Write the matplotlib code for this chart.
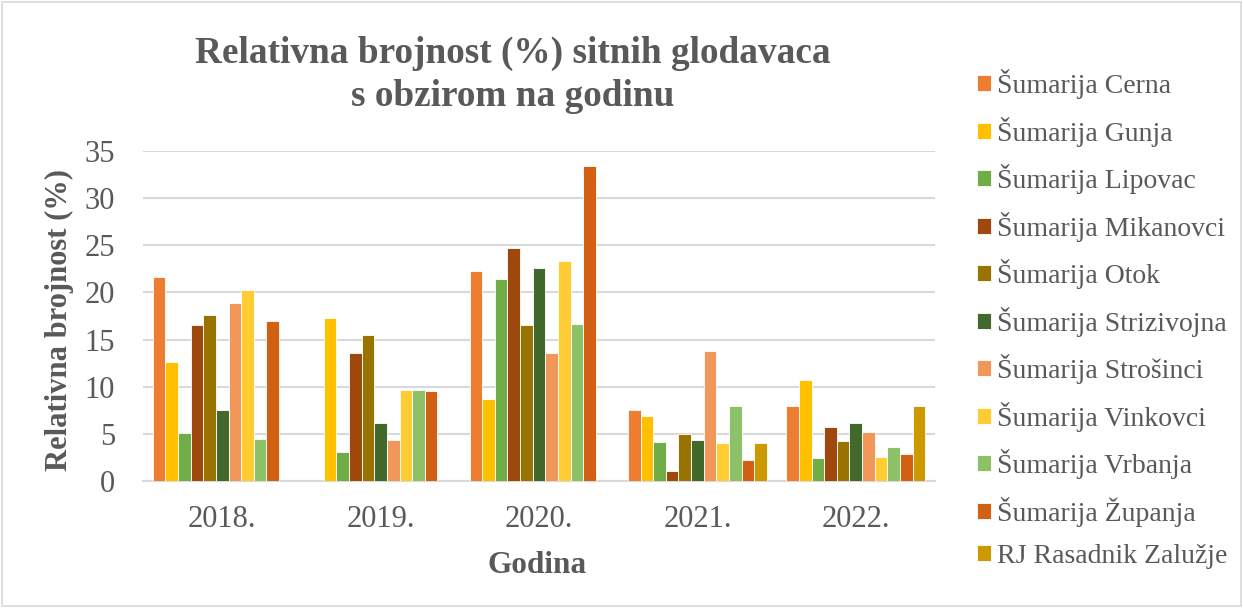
import numpy as np
import matplotlib
matplotlib.use("Agg")
import matplotlib.pyplot as plt
from matplotlib.patches import Rectangle

# data
godine = ["2018.", "2019.", "2020.", "2021.", "2022."]
serije = ["Šumarija Cerna", "Šumarija Gunja", "Šumarija Lipovac",
          "Šumarija Mikanovci", "Šumarija Otok", "Šumarija Strizivojna",
          "Šumarija Strošinci", "Šumarija Vinkovci", "Šumarija Vrbanja",
          "Šumarija Županja", "RJ Rasadnik Zalužje"]

cerna       = [21.6, 0.0, 22.3, 7.5, 8.0]
gunja       = [12.6, 17.3, 8.7, 6.9, 10.7]
lipovac     = [5.1, 3.1, 21.4, 4.1, 2.4]
mikanovci   = [16.5, 13.6, 24.7, 1.1, 5.7]
otok        = [17.6, 15.5, 16.5, 5.0, 4.2]
strizivojna = [7.5, 6.1, 22.6, 4.4, 6.1]
strosinci   = [18.9, 4.4, 13.6, 13.8, 5.2]
vinkovci    = [20.3, 9.7, 23.3, 4.0, 2.5]
vrbanja     = [4.5, 9.6, 16.6, 8.0, 3.6]
zupanja     = [17.0, 9.5, 33.4, 2.2, 2.9]
zaluzje     = [0.0, 0.0, 0.0, 4.0, 8.0]

boje = ["#ED7D31", "#FFC000", "#70AD47", "#9E480E", "#997300", "#43682B",
        "#F1975A", "#FFCD33", "#8CC168", "#D26012", "#CC9A00"]

vrijednosti = [cerna, gunja, lipovac, mikanovci, otok, strizivojna,
               strosinci, vinkovci, vrbanja, zupanja, zaluzje]

plt.rcParams['font.family'] = ['Liberation Serif', 'DejaVu Serif']
siva = "#595959"

fig = plt.figure(figsize=(12.43, 6.08), dpi=100)
ax = fig.add_axes([143/1243, 1 - 481/608, (935-143)/1243, (481-151)/608])

n = len(serije)
sirina = 0.877 / n
x = np.arange(len(godine))
for i in range(n):
    pomak = (i - (n - 1) / 2) * sirina
    ax.bar(x + pomak, vrijednosti[i], sirina, color=boje[i], label=serije[i],
           edgecolor="white", linewidth=0.6, zorder=3)

ax.set_xlim(-0.5, len(godine) - 0.5)
ax.set_ylim(0, 35)
ax.set_yticks(range(0, 36, 5))
ax.set_xticks(x)
ax.set_xticklabels(godine)
ax.tick_params(axis='both', length=0, labelsize=22, colors=siva)
ax.tick_params(axis='y', pad=20)
ax.tick_params(axis='x', pad=17)
ax.yaxis.grid(True, color="#D9D9D9", linewidth=1.5, zorder=0)
for s in ["top", "right", "left"]:
    ax.spines[s].set_visible(False)
ax.spines["bottom"].set_color("#D9D9D9")
ax.spines["bottom"].set_linewidth(1.5)

ax.set_ylabel("Relativna brojnost (%)", fontsize=22, fontweight="bold", color=siva)
ax.yaxis.set_label_coords(-0.087, 0.488)
ax.set_xlabel("Godina", fontsize=22.5, fontweight="bold", color=siva)
ax.xaxis.set_label_coords(0.497, -0.212)

fig.text(513/1243, 1 - 75/608, "Relativna brojnost (%) sitnih glodavaca\ns obzirom na godinu",
         ha="center", va="center", fontsize=26.8, fontweight="bold", color=siva, linespacing=1.3)

leg = fig.legend(loc="upper left", bbox_to_anchor=(966/1243, 1 - 58/608), frameon=False,
                 fontsize=20, labelcolor=siva, handlelength=0.5, handleheight=0.5,
                 handletextpad=0.2, labelspacing=0.63, borderaxespad=0)

fig.patches.append(Rectangle((0.002, 0.003), 0.996, 0.994, transform=fig.transFigure,
                             fill=False, edgecolor="#D9D9D9", linewidth=1.2))

fig.savefig("out.png", dpi=100)
